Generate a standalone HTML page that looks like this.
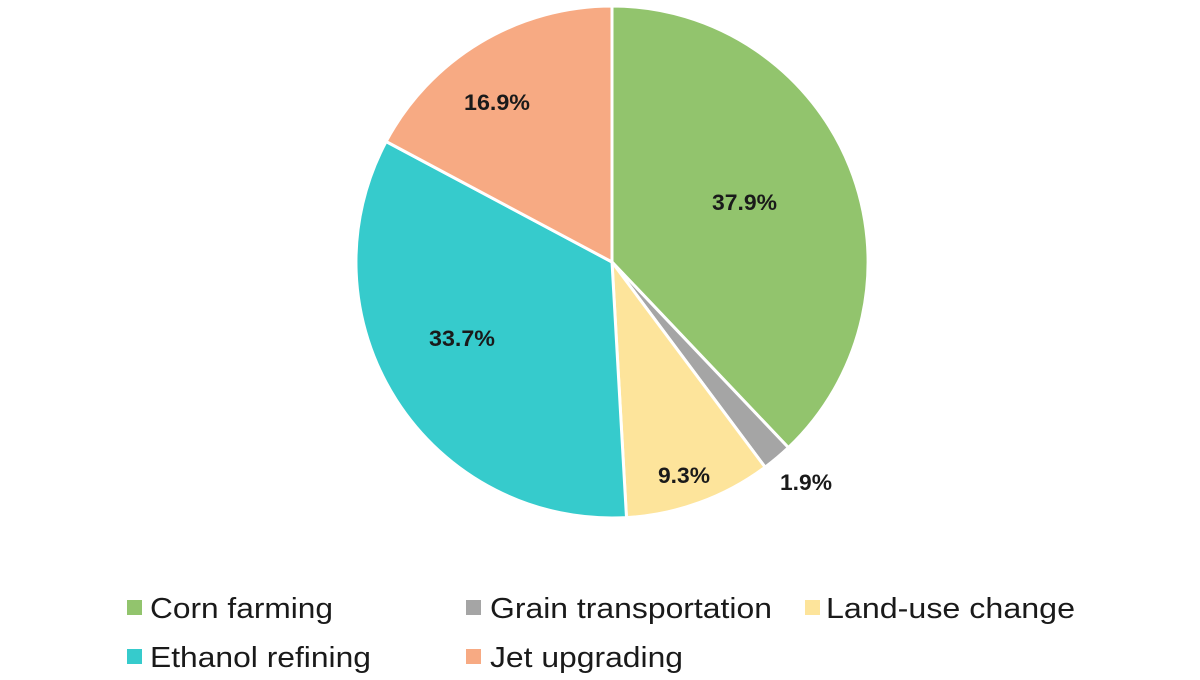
<!DOCTYPE html>
<html><head><meta charset="utf-8"><style>
html,body{margin:0;padding:0;background:#fff;}
body{width:1200px;height:675px;overflow:hidden;font-family:"Liberation Sans",Arial,sans-serif;}
</style></head><body>
<svg width="1200" height="675" viewBox="0 0 1200 675" xmlns="http://www.w3.org/2000/svg">
<g stroke="#fff" stroke-width="3" stroke-linejoin="round">
<path d="M612,262 L612,6 A256,256 0 0 1 788.4,447.6 Z" fill="#92c46d"/>
<path d="M612,262 L788.4,447.6 A256,256 0 0 1 765.1,467.2 Z" fill="#a5a5a5"/>
<path d="M612,262 L765.1,467.2 A256,256 0 0 1 626.5,517.6 Z" fill="#fde49b"/>
<path d="M612,262 L626.5,517.6 A256,256 0 0 1 386.1,141.5 Z" fill="#36cbcc"/>
<path d="M612,262 L386.1,141.5 A256,256 0 0 1 612,6 Z" fill="#f7aa83"/>
</g>
<g font-family="Liberation Sans, Arial, sans-serif" font-weight="bold" font-size="22" fill="#1a1a1a">
<text x="712" y="210" textLength="65" lengthAdjust="spacingAndGlyphs">37.9%</text>
<text x="464" y="110" textLength="66" lengthAdjust="spacingAndGlyphs">16.9%</text>
<text x="429" y="346" textLength="66" lengthAdjust="spacingAndGlyphs">33.7%</text>
<text x="658" y="483" textLength="52" lengthAdjust="spacingAndGlyphs">9.3%</text>
<text x="780" y="490" textLength="52" lengthAdjust="spacingAndGlyphs">1.9%</text>
</g>
<g font-family="Liberation Sans, Arial, sans-serif" font-size="29" fill="#1a1a1a">
<rect x="127" y="600" width="15" height="15" fill="#92c46d"/><text x="150" y="618" textLength="183" lengthAdjust="spacingAndGlyphs">Corn farming</text>
<rect x="466" y="600" width="15" height="15" fill="#a5a5a5"/><text x="490" y="618" textLength="282" lengthAdjust="spacingAndGlyphs">Grain transportation</text>
<rect x="805" y="600" width="15" height="15" fill="#fde49b"/><text x="826" y="618" textLength="249" lengthAdjust="spacingAndGlyphs">Land-use change</text>
<rect x="127" y="649" width="15" height="15" fill="#36cbcc"/><text x="150" y="667" textLength="221" lengthAdjust="spacingAndGlyphs">Ethanol refining</text>
<rect x="466" y="649" width="15" height="15" fill="#f7aa83"/><text x="490" y="667" textLength="193" lengthAdjust="spacingAndGlyphs">Jet upgrading</text>
</g>
</svg>
</body></html>
